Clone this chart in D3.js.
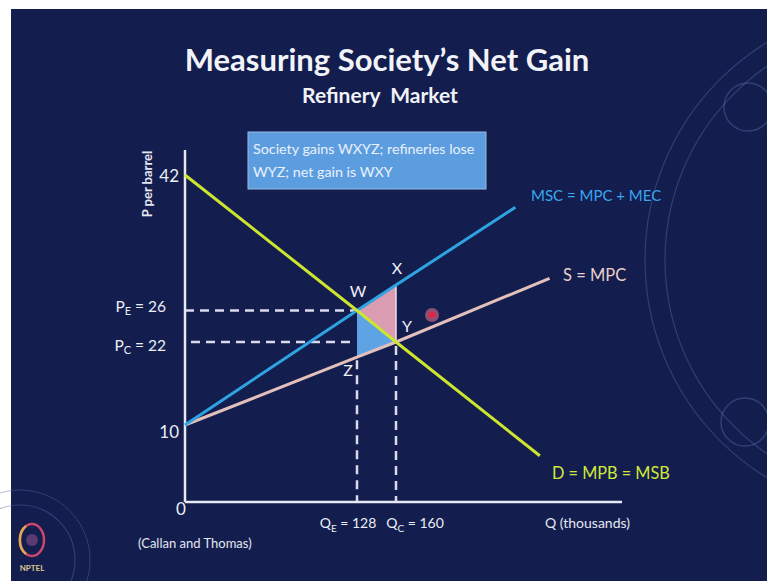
<!DOCTYPE html>
<html>
<head>
<meta charset="utf-8">
<script src="https://cdn.jsdelivr.net/npm/d3@7"></script>
<style>
  html, body { margin: 0; padding: 0; background: #ffffff; }
  svg { display: block; font-family: Lato, "Open Sans", sans-serif; }
</style>
</head>
<body>
<div id="chart"></div>
<script>
// curves (Q in thousands, P per barrel)
const demand = [{q: 0, p: 42}, {q: 128, p: 26}, {q: 160, p: 22}, {q: 278, p: 6}];
const msc = [{q: 0, p: 10}, {q: 128, p: 26}, {q: 160, p: 29}, {q: 258, p: 38.2}];
const mpc = [{q: 0, p: 10}, {q: 128, p: 19.8}, {q: 160, p: 22}, {q: 286, p: 29.8}];

// shaded areas
const gainWXY = [{q: 128, p: 26}, {q: 160, p: 29}, {q: 160, p: 22}];
const lossWYZ = [{q: 128, p: 26}, {q: 160, p: 22}, {q: 128, p: 19.8}];

// tick labels
const plainTicks = [42, 10];
const priceTicks = [{sub: 'E', v: 26}, {sub: 'C', v: 22}];
const qtyTicks = [{sub: 'E', v: 128}, {sub: 'C', v: 160}];
const points = [
  {name: 'W', q: 128, p: 26, dx: 1, dy: -20},
  {name: 'X', q: 160, p: 29, dx: 1, dy: -18},
  {name: 'Y', q: 160, p: 22, dx: 11, dy: -17},
  {name: 'Z', q: 128, p: 19.8, dx: -9, dy: 12}
];

const W = 767, H = 581;
const svg = d3.select('#chart').append('svg')
  .attr('width', W).attr('height', H);

// slide background
svg.append('rect').attr('x', 11).attr('y', 9).attr('width', W - 11).attr('height', H - 9)
  .attr('fill', '#131e4e');

// faint decorative arcs
const deco = svg.append('g').attr('fill', 'none').attr('stroke', '#5866a0').attr('stroke-opacity', 0.45);
deco.append('circle').attr('cx', 900).attr('cy', 260).attr('r', 255).attr('stroke-width', 1.2);
deco.append('circle').attr('cx', 900).attr('cy', 260).attr('r', 235).attr('stroke-width', 1.2);
deco.append('circle').attr('cx', 748).attr('cy', 107).attr('r', 24).attr('stroke-width', 1.5);
deco.append('circle').attr('cx', 745).attr('cy', 422).attr('r', 24).attr('stroke-width', 1.5);
deco.append('circle').attr('cx', 20).attr('cy', 560).attr('r', 55).attr('stroke-width', 1.2);
deco.append('circle').attr('cx', 20).attr('cy', 560).attr('r', 70).attr('stroke-width', 1);

// NPTEL badge
const logo = svg.append('g').attr('transform', 'translate(32,540)');
logo.append('ellipse').attr('rx', 12).attr('ry', 16).attr('fill', 'none')
  .attr('stroke', '#c8486e').attr('stroke-width', 2.5);
logo.append('path').attr('d', 'M -6 -14 A 12 16 0 0 0 -6 14').attr('fill', 'none')
  .attr('stroke', '#e0a850').attr('stroke-width', 2.5);
logo.append('circle').attr('r', 6).attr('fill', '#5a3a70');
logo.append('text').attr('y', 31).attr('text-anchor', 'middle')
  .attr('font-size', 8).attr('font-weight', 700).attr('fill', '#d8c890').text('NPTEL');

// titles
svg.append('text').attr('x', 387).attr('y', 71).attr('text-anchor', 'middle')
  .attr('font-size', 31).attr('font-weight', 700).attr('fill', '#f2f3f8')
  .text('Measuring Society’s Net Gain');
svg.append('text').attr('x', 380).attr('y', 103).attr('text-anchor', 'middle')
  .attr('font-size', 21).attr('font-weight', 700).attr('fill', '#f2f3f8')
  .attr('xml:space', 'preserve')
  .text('Refinery  Market');

// scales: the sketch is not drawn to a single scale, so breakpoints follow the picture
const x = d3.scaleLinear().domain([0, 128, 160]).range([185, 357, 396]);
const y = d3.scaleLinear().domain([0, 10, 22, 26, 42]).range([502, 425, 342, 310.5, 175]);

const line = d3.line().x(d => x(d.q)).y(d => y(d.p));

// info box
svg.append('rect').attr('x', 248).attr('y', 132).attr('width', 238).attr('height', 57)
  .attr('fill', '#5c9de0').attr('stroke', '#9ab8e0').attr('stroke-width', 1);
svg.append('text').attr('x', 253).attr('y', 154).attr('font-size', 14.3).attr('fill', '#eaf1fc')
  .text('Society gains WXYZ; refineries lose');
svg.append('text').attr('x', 253).attr('y', 177).attr('font-size', 14.3).attr('fill', '#eaf1fc')
  .text('WYZ; net gain is WXY');

// shaded triangles
svg.append('path').attr('d', line(gainWXY) + 'Z').attr('fill', '#da9cb0');
svg.append('path').attr('d', line(lossWYZ) + 'Z').attr('fill', '#5ea3e4');

// dashed guides
const guides = svg.append('g').attr('stroke', '#dcd9ee').attr('stroke-width', 2.5)
  .attr('stroke-dasharray', '9,6').attr('fill', 'none');
guides.append('line').attr('x1', x(0)).attr('x2', x(128) - 2).attr('y1', y(26)).attr('y2', y(26));
guides.append('line').attr('x1', x(0) + 6).attr('x2', x(128) - 4).attr('y1', y(22)).attr('y2', y(22));
guides.append('line').attr('x1', x(128)).attr('x2', x(128)).attr('y1', y(19.8) + 3).attr('y2', y(0));
guides.append('line').attr('x1', x(160)).attr('x2', x(160)).attr('y1', y(22) + 4).attr('y2', y(0));
svg.append('line').attr('x1', x(160)).attr('x2', x(160)).attr('y1', y(29)).attr('y2', y(22))
  .attr('stroke', '#ecdfe8').attr('stroke-width', 1.5);

// axes
const axes = svg.append('g').attr('stroke', '#e6e8f4').attr('stroke-width', 2.5);
axes.append('line').attr('x1', x(0)).attr('x2', x(0)).attr('y1', 150).attr('y2', y(0));
axes.append('line').attr('x1', x(0)).attr('x2', 622).attr('y1', y(0)).attr('y2', y(0));

// curves
svg.append('path').attr('d', line(mpc)).attr('fill', 'none')
  .attr('stroke', '#e4c0bc').attr('stroke-width', 3);
svg.append('path').attr('d', line(msc)).attr('fill', 'none')
  .attr('stroke', '#2ea3e2').attr('stroke-width', 3);
svg.append('path').attr('d', line(demand)).attr('fill', 'none')
  .attr('stroke', '#cde52f').attr('stroke-width', 3);

// curve labels
svg.append('text').attr('x', 531).attr('y', 201).attr('font-size', 15).attr('fill', '#3aa6ee')
  .text('MSC = MPC + MEC');
svg.append('text').attr('x', 563).attr('y', 281).attr('font-size', 16.5).attr('fill', '#ead0cc')
  .text('S = MPC');
svg.append('text').attr('x', 552).attr('y', 479).attr('font-size', 16.3).attr('fill', '#d2e93a')
  .text('D = MPB = MSB');

// point labels
svg.append('g').selectAll('text').data(points).join('text')
  .attr('x', d => x(d.q) + d.dx).attr('y', d => y(d.p) + d.dy)
  .attr('text-anchor', 'middle').attr('dominant-baseline', 'central')
  .attr('font-size', 16).attr('fill', '#f0f0f6')
  .text(d => d.name);

// laser pointer dot
svg.append('circle').attr('cx', 432).attr('cy', 315).attr('r', 7).attr('fill', '#e07090').attr('opacity', 0.6);
svg.append('circle').attr('cx', 432).attr('cy', 315).attr('r', 3).attr('fill', '#f0203c');

// y tick labels
const tickText = svg.append('g').attr('font-size', 17).attr('fill', '#eceef6');
tickText.selectAll('text.plain').data(plainTicks).join('text').attr('class', 'plain')
  .attr('x', 179).attr('y', d => y(d) + (d === 10 ? 6 : 0))
  .attr('text-anchor', 'end').attr('dominant-baseline', 'central')
  .text(d => d);
tickText.append('text').attr('x', 181).attr('y', y(0) + 6)
  .attr('text-anchor', 'middle').attr('dominant-baseline', 'central').text(0);

const pt = svg.append('g').attr('font-size', 15.5).attr('fill', '#eceef6');
pt.selectAll('text').data(priceTicks).join('text')
  .attr('x', 166).attr('y', d => y(d.v) + (d.sub === 'E' ? -5 : 3))
  .attr('text-anchor', 'end').attr('dominant-baseline', 'central')
  .each(function(d) {
    const t = d3.select(this);
    t.append('tspan').text('P');
    t.append('tspan').attr('font-size', 11).attr('dy', 4).text(d.sub);
    t.append('tspan').attr('dy', -4).text(' = ' + d.v);
  });

const qt = svg.append('g').attr('font-size', 14).attr('fill', '#eceef6');
qt.selectAll('text').data(qtyTicks).join('text')
  .attr('x', d => x(d.v) + (d.sub === 'E' ? -9 : 19)).attr('y', 528)
  .attr('text-anchor', 'middle')
  .each(function(d) {
    const t = d3.select(this);
    t.append('tspan').text('Q');
    t.append('tspan').attr('font-size', 10).attr('dy', 4).text(d.sub);
    t.append('tspan').attr('dy', -4).text(' = ' + d.v);
  });

// axis titles and source
svg.append('text').attr('transform', 'translate(152,184) rotate(-90)')
  .attr('text-anchor', 'middle').attr('font-size', 13).attr('font-weight', 700)
  .attr('fill', '#e4e6f2').text('P per barrel');
svg.append('text').attr('x', 545).attr('y', 528).attr('font-size', 14).attr('fill', '#e4e6f2')
  .text('Q (thousands)');
svg.append('text').attr('x', 138).attr('y', 548).attr('font-size', 13).attr('fill', '#e4e6f2')
  .text('(Callan and Thomas)');
</script>
</body>
</html>
